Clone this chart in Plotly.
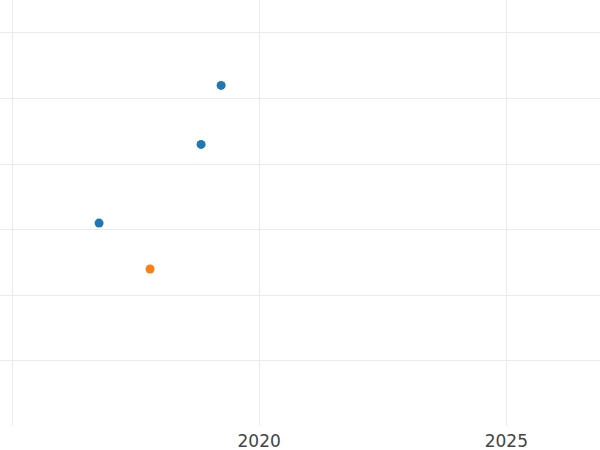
import plotly.graph_objects as go

series_a_dates = ["2019-03-26", "2018-10-29", "2016-10-05"]
series_a_values = [52, 43, 31]
series_b_dates = ["2017-10-17"]
series_b_values = [24]

fig = go.Figure()
fig.add_trace(go.Scatter(x=series_a_dates, y=series_a_values, mode="markers",
                         marker=dict(color="#1f77b4", size=9), name="A"))
fig.add_trace(go.Scatter(x=series_b_dates, y=series_b_values, mode="markers",
                         marker=dict(color="#ff7f0e", size=9), name="B"))

fig.update_layout(
    width=600, height=450,
    margin=dict(l=0, r=0, t=0, b=24),
    paper_bgcolor="white", plot_bgcolor="white",
    showlegend=False,
    font=dict(family="DejaVu Sans", size=17, color="#444"),
    xaxis=dict(type="date", range=["2014-10-04", "2026-11-24"],
               dtick="M60", tick0="2015-01-01", tickformat="%Y",
               showgrid=True, gridcolor="#ebebeb", gridwidth=1,
               zeroline=False, showline=False, automargin=False,
               ticklabelstandoff=3),
    yaxis=dict(range=[0.05, 65.03], dtick=10, tick0=0,
               showgrid=True, gridcolor="#ebebeb", gridwidth=1,
               zeroline=False, showline=False, showticklabels=False,
               automargin=False),
)

fig.write_html("out.html", config={"displayModeBar": False},
               post_script="document.body.style.margin='0';document.body.style.padding='0';")
